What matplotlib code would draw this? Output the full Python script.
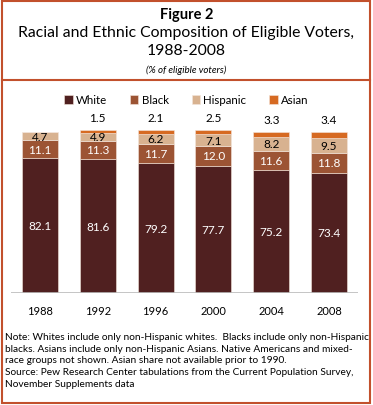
import matplotlib
matplotlib.use('Agg')
from matplotlib import pyplot as plt
from matplotlib.patches import Rectangle
from matplotlib.lines import Line2D

years = ['1988', '1992', '1996', '2000', '2004', '2008']
white = [82.1, 81.6, 79.2, 77.7, 75.2, 73.4]
black = [11.1, 11.3, 11.7, 12.0, 11.6, 11.8]
hispanic = [4.7, 4.9, 6.2, 7.1, 8.2, 9.5]
asian = [0, 1.5, 2.1, 2.5, 3.3, 3.4]
asian_avail = [False, True, True, True, True, True]

series_names = ['White', 'Black', 'Hispanic', 'Asian']
colors = ['#502020', '#9C5434', '#D8B290', '#D66A22']
label_colors = ['white', 'white', 'black', 'black']

footnote = ('Note: Whites include only non-Hispanic whites.  Blacks include only non-Hispanic\n'
            'blacks. Asians include only non-Hispanic Asians. Native Americans and mixed-\n'
            'race groups not shown. Asian share not available prior to 1990.\n'
            'Source: Pew Research Center tabulations from the Current Population Survey,\n'
            'November Supplements data')

plt.rcParams['font.family'] = ['Lato', 'DejaVu Sans']

W, H = 373, 406
fig = plt.figure(figsize=(W / 100, H / 100), dpi=100)
border = '#C2502C'


def fy(py):
  return 1 - py / H


def fx(px):
  return px / W


# frame
fig.patches.append(Rectangle((fx(2), fy(404)), fx(368), (402) / H, transform=fig.transFigure,
                             fill=False, edgecolor=border, linewidth=1.5))
fig.lines.append(Line2D([fx(2), fx(370)], [fy(81), fy(81)], transform=fig.transFigure,
                        color=border, linewidth=1.5))

fig.text(0.5, fy(15), 'Figure 2', ha='center', va='center', fontsize=10.5, fontweight='bold')
fig.text(0.5, fy(33), 'Racial and Ethnic Composition of Eligible Voters,', ha='center',
         va='center', fontsize=11.3)
fig.text(0.5, fy(51), '1988-2008', ha='center', va='center', fontsize=11.3)
fig.text(0.5, fy(70), '(% of eligible voters)', ha='center', va='center', fontsize=7,
         style='italic')

ax = fig.add_axes([fx(11), fy(294), fx(347), 164 / H])
x = list(range(len(years)))
bw = 0.62
bottoms = [0] * len(years)
data = [white, black, hispanic, asian]
handles = []
for k, vals in enumerate(data):
  bars = ax.bar(x, vals, bw, bottom=bottoms, color=colors[k], edgecolor='#F3E6DC',
                linewidth=0.4, label=series_names[k])
  handles.append(bars)
  for i in range(len(years)):
    if k == 3:
      if asian_avail[i]:
        ax.annotate(f'{vals[i]:.1f}', (x[i], bottoms[i] + vals[i]), xytext=(0, 9),
                    textcoords='offset points', ha='center', va='center', fontsize=8.5,
                    color='black')
    else:
      ax.text(x[i], bottoms[i] + vals[i] / 2, f'{vals[i]:.1f}', ha='center', va='center',
              fontsize=8.5, color=label_colors[k])
  bottoms = [bottoms[i] + vals[i] for i in range(len(years))]

ax.set_xlim(-0.5, 5.5)
ax.set_ylim(0, 100)
ax.axhline(0, color='#BBBBBB', linewidth=1.2)
for s in ax.spines.values():
  s.set_visible(False)
ax.set_yticks([])
ax.set_xticks(x)
ax.set_xticklabels(years, fontsize=8)
ax.tick_params(axis='x', length=0, pad=9)

fig.legend(handles=handles, labels=series_names, loc='center', bbox_to_anchor=(0.5, fy(101)),
           ncol=4, frameon=False, fontsize=8.3, handlelength=0.7, handleheight=0.7,
           handletextpad=0.3, columnspacing=2.0)

fig.text(fx(5), fy(361), footnote, ha='left', va='center', fontsize=7.25, linespacing=1.4)

fig.savefig('out.png', dpi=100)
